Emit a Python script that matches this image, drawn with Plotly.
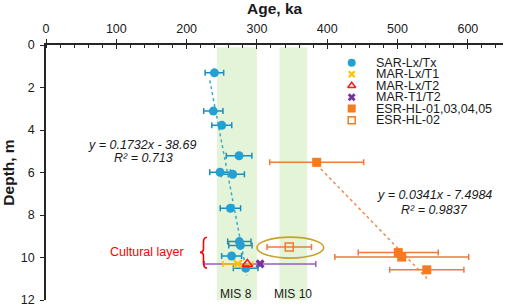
import plotly.graph_objects as go

# ---------------- data ----------------
sar_age = [239.5, 238.0, 250.0, 274.6, 247.6, 265.6, 262.3, 275.0, 276.5, 264.0, 284.0]
sar_depth = [1.31, 3.11, 3.78, 5.21, 5.99, 6.08, 7.68, 9.25, 9.43, 9.93, 10.50]
sar_err = [13.2, 13.7, 14.2, 18.2, 14.7, 16.6, 14.5, 16.6, 16.6, 14.2, 17.5]

mar_t1_age = [272.8]
mar_t1_depth = [10.31]
mar_t1_err = [21.0]

mar_t2_age = [286.4]
mar_t2_depth = [10.31]

mar_t1t2_age = [304.5]
mar_t1t2_depth = [10.30]
mar_t1t2_err = [79.3]

esr_age = [385.0, 501.0, 506.0, 541.6]
esr_depth = [5.52, 9.77, 9.98, 10.58]
esr_err = [66.8, 56.9, 95.2, 52.8]

esr02_age = [346.0]
esr02_depth = [9.50]
esr02_err = [31.6]

# trend lines (from the equations printed on the chart)
sar_slope, sar_icpt = 0.1732, -38.69
esr_slope, esr_icpt = 0.0341, -7.4984
sar_trend_x = [233.0, 286.0]
esr_trend_x = [385.0, 542.0]

mis_bands = {"MIS 8": (243.0, 300.0), "MIS 10": (332.0, 371.5)}

legend_labels = ["SAR-Lx/Tx", "MAR-Lx/T1", "MAR-Lx/T2", "MAR-T1/T2",
                 "ESR-HL-01,03,04,05", "ESR-HL-02"]

x_ticks = [0, 100, 200, 300, 400, 500, 600]
y_ticks = [0, 2, 4, 6, 8, 10, 12]

# ---------------- styles ----------------
FONT = "Liberation Sans, Arial, sans-serif"
C_SAR = "#23A1D2"
C_SAR_ERR = "#1A8EBF"
C_YEL = "#FFC000"
C_RED = "#FF1A1A"
C_PUR = "#7A2FA0"
C_ORG = "#F47B20"
C_ORG_ERR = "#EE7A3E"
C_BAND = "#E3F4D9"
C_AX = "#262626"

fig = go.Figure()

def err(vals, color, w=3, t=1.5):
    return dict(type="data", array=vals, visible=True, color=color, thickness=t, width=w)

# trend lines
fig.add_trace(go.Scatter(
    x=sar_trend_x, y=[sar_slope * v + sar_icpt for v in sar_trend_x],
    mode="lines", line=dict(color="#3FAAC4", width=1.5, dash="dot"),
    showlegend=False, hoverinfo="skip"))
fig.add_trace(go.Scatter(
    x=esr_trend_x, y=[esr_slope * v + esr_icpt for v in esr_trend_x],
    mode="lines", line=dict(color="#F58A4A", width=1.5, dash="dot"),
    showlegend=False, hoverinfo="skip"))

# purple MAR-T1/T2 (long bar drawn first)
fig.add_trace(go.Scatter(
    x=mar_t1t2_age, y=mar_t1t2_depth, mode="markers",
    marker=dict(symbol="x", size=8, color=C_PUR),
    error_x=err(mar_t1t2_err, "#9A5CC0"), showlegend=False))

# ESR
fig.add_trace(go.Scatter(
    x=esr_age, y=esr_depth, mode="markers",
    marker=dict(symbol="square", size=9, color=C_ORG),
    error_x=err(esr_err, C_ORG_ERR), showlegend=False))
fig.add_trace(go.Scatter(
    x=esr02_age, y=esr02_depth, mode="markers",
    marker=dict(symbol="square-open", size=8, color=C_ORG, line=dict(width=1.5)),
    error_x=err(esr02_err, C_ORG_ERR), showlegend=False))

# SAR
fig.add_trace(go.Scatter(
    x=sar_age, y=sar_depth, mode="markers",
    marker=dict(symbol="circle", size=9, color=C_SAR),
    error_x=err(sar_err, C_SAR_ERR), showlegend=False))

# MAR
fig.add_trace(go.Scatter(
    x=mar_t1_age, y=mar_t1_depth, mode="markers",
    marker=dict(symbol="x-thin-open", size=8, color=C_YEL, line=dict(width=2.2, color=C_YEL)),
    error_x=err(mar_t1_err, C_YEL), showlegend=False))
fig.add_trace(go.Scatter(
    x=mar_t2_age, y=mar_t2_depth, mode="markers",
    marker=dict(symbol="triangle-up-open", size=9, color=C_RED, line=dict(width=1.6)),
    showlegend=False))

# dummy trace for crossing-tick overlay axis
fig.add_trace(go.Scatter(x=[None], y=[None], xaxis="x2", yaxis="y",
                         showlegend=False, hoverinfo="skip"))

# ---------------- manual legend (pixel-like overlay axes) ----------------
leg_sym = [dict(symbol="circle", size=8, color=C_SAR),
           dict(symbol="x-thin-open", size=6, color=C_YEL, line=dict(width=2, color=C_YEL)),
           dict(symbol="triangle-up-open", size=7, color=C_RED, line=dict(width=1.5, color=C_RED)),
           dict(symbol="x", size=7, color=C_PUR),
           dict(symbol="square", size=8, color=C_ORG),
           dict(symbol="square-open", size=7, color=C_ORG, line=dict(width=1.5, color=C_ORG))]
leg_y = [62.7, 74.3, 85.7, 97.3, 108.5, 120.3]
for sym, yy in zip(leg_sym, leg_y):
    fig.add_trace(go.Scatter(x=[351.7], y=[yy], xaxis="x3", yaxis="y3", mode="markers",
                             marker=sym, showlegend=False, hoverinfo="skip"))

annotations = []
for lab, yy in zip(legend_labels, leg_y):
    annotations.append(dict(x=374, y=yy, xref="x3", yref="y3", text=lab, showarrow=False,
                            xanchor="left", yanchor="middle",
                            font=dict(family=FONT, size=12.5, color="#1a1a1a")))

# equations
ital = dict(family=FONT, size=12.5, color="#1a1a1a")
annotations += [
    dict(x=136.5, y=4.71, text="<i>y = 0.1732x - 38.69</i>", showarrow=False, font=ital),
    dict(x=138.0, y=5.33, text="<i>R² = 0.713</i>", showarrow=False, font=ital),
    dict(x=553.0, y=7.06, text="<i>y = 0.0341x - 7.4984</i>", showarrow=False, font=ital),
    dict(x=553.0, y=7.77, text="<i>R² = 0.9837</i>", showarrow=False, font=ital),
    dict(x=199.0, y=9.76, text="Cultural layer", showarrow=False, xanchor="right",
         font=dict(family=FONT, size=12.5, color="#FF0000")),
]
for name, (a, b) in mis_bands.items():
    annotations.append(dict(x=(a + b) / 2 - 1, y=11.72, text=name, showarrow=False,
                            font=dict(family=FONT, size=12, color="#1a1a1a")))
# axis title (top)
annotations += [
    dict(x=0.5, y=1 + (45 - 8.7) / 255, xref="paper", yref="paper", yanchor="middle",
         text="<b>Age, ka</b>", showarrow=False,
         font=dict(family=FONT, size=15.5, color="#1a1a1a")),
]

shapes = []
for name, (a, b) in mis_bands.items():
    shapes.append(dict(type="rect", x0=a, x1=b, y0=0.1, y1=12, xref="x", yref="y",
                       fillcolor=C_BAND, line=dict(width=0), layer="below"))
shapes.append(dict(type="circle", x0=300, x1=395, y0=9.04, y1=10.03, xref="x", yref="y",
                   line=dict(color="#C9A227", width=1.6)))
shapes.append(dict(type="path", xref="x", yref="y",
                   path="M 229,9.05 Q 224,9.05 224,9.3 L 224,9.58 Q 224,9.76 219,9.76 "
                        "Q 224,9.76 224,9.94 L 224,10.25 Q 224,10.5 229,10.5",
                   line=dict(color="#FF0000", width=1.6)))

fig.update_layout(
    width=505, height=306,
    margin=dict(l=46, r=2, t=45, b=6, autoexpand=False),
    paper_bgcolor="white", plot_bgcolor="white",
    font=dict(family=FONT, size=12, color="#1a1a1a"),
    showlegend=False,
    xaxis=dict(range=[0, 650], side="top", tickvals=x_ticks, ticks="outside", ticklen=4,
               tickwidth=1.3, tickcolor=C_AX, showline=True, linecolor=C_AX, linewidth=1.5,
               showgrid=False, zeroline=False, tickfont=dict(size=12.5),
               minor=dict(dtick=20, ticks="inside", ticklen=3, tickwidth=1.2, tickcolor=C_AX),
               automargin=False, ticklabelstandoff=1, ticklabeloverflow="allow"),
    xaxis2=dict(range=[0, 650], overlaying="x", side="top", tickvals=x_ticks, ticks="inside",
                ticklen=4, tickwidth=1.3, tickcolor=C_AX, showticklabels=False,
                showgrid=False, zeroline=False, showline=False, automargin=False),
    yaxis=dict(range=[12, 0], tickvals=y_ticks, ticks="outside", ticklen=4, tickwidth=1.3,
               tickcolor=C_AX, showline=True, linecolor=C_AX, linewidth=1.5,
               showgrid=False, zeroline=False, tickfont=dict(size=12.5),
               title=dict(text="<b>Depth, m</b>", font=dict(size=15.5), standoff=6),
               automargin=False, ticklabelstandoff=3, ticklabeloverflow="allow"),
    xaxis3=dict(range=[46, 503], overlaying="x", visible=False, fixedrange=True),
    yaxis3=dict(range=[300, 45], overlaying="y", visible=False, fixedrange=True),
    annotations=annotations, shapes=shapes,
)

fig.write_html("out.html", config={"displayModeBar": False},
               post_script="document.body.style.margin='0px';")
